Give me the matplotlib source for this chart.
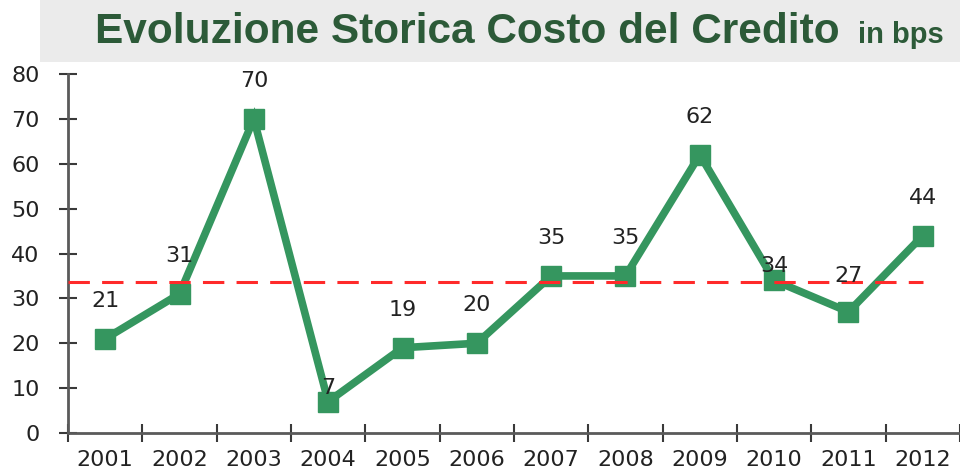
import numpy as np
import matplotlib
matplotlib.use("Agg")
import matplotlib.pyplot as plt
from matplotlib.patches import Rectangle

# data
years = ['2001', '2002', '2003', '2004', '2005', '2006', '2007', '2008', '2009', '2010', '2011', '2012']
cost_bps = [21, 31, 70, 7, 19, 20, 35, 35, 62, 34, 27, 44]
label_offset = [38, 38, 38, 14, 38, 38, 38, 38, 38, 14, 36, 38]  # px above marker
average = np.mean(cost_bps)

plt.rcParams['font.family'] = ['DejaVu Sans']

fig = plt.figure(figsize=(9.6, 4.74), dpi=100)
ax = fig.add_axes([68/960, 1 - 433/474, (960 - 68)/960, (433 - 74)/474])

x = np.arange(len(years))
ax.plot(x, cost_bps, color='#35965f', linewidth=5.5, marker='s', markersize=15,
        solid_joinstyle='miter', zorder=3)
ax.hlines(average, -0.5, len(years) - 1, colors='#ff2a2a', linestyles=(0, (7, 4)),
          linewidth=2.2, zorder=4)

for xi, v, off in zip(x, cost_bps, label_offset):
    ax.annotate(str(v), (xi, v), xytext=(0, off * 0.72), textcoords='offset points',
                ha='center', va='center', fontsize=16, color='#222222', zorder=5)

ax.set_xlim(-0.5, len(years) - 0.5)
ax.set_ylim(0, 80)
ax.set_yticks(range(0, 81, 10))
ax.set_xticks(x)
ax.set_xticklabels(years)
ax.set_xticks(np.arange(-0.5, len(years), 1), minor=True)

for s in ['top', 'right']:
    ax.spines[s].set_visible(False)
for s in ['left', 'bottom']:
    ax.spines[s].set_color('#5a5a5a')
    ax.spines[s].set_linewidth(2)
ax.spines['left'].set_bounds(0, 80)

ax.tick_params(axis='y', direction='inout', length=13, width=1.5, color='#3a3a3a',
               labelsize=16, pad=14, labelcolor='#222222')
ax.tick_params(axis='x', which='major', length=0, labelsize=16, pad=12, labelcolor='#222222')
ax.tick_params(axis='x', which='minor', direction='inout', length=13, width=1.5, color='#3a3a3a')
for lbl in ax.get_xticklabels() + ax.get_yticklabels():
    lbl.set_clip_on(False)

# title banner
fig.patches.append(Rectangle((40/960, 1 - 62/474), 920/960, 62/474,
                             transform=fig.transFigure, facecolor='#ebebeb',
                             edgecolor='none', zorder=0))
fig.text(95/960, 1 - 43/474, 'Evoluzione Storica Costo del Credito',
         family=['Liberation Sans'], fontweight='bold',
         fontsize=30.5, color='#2c5a38', va='baseline', ha='left')
fig.text(944/960, 1 - 43/474, 'in bps',
         family=['Liberation Sans'], fontweight='bold',
         fontsize=21, color='#2c5a38', va='baseline', ha='right')

fig.savefig('out.png', dpi=100)
